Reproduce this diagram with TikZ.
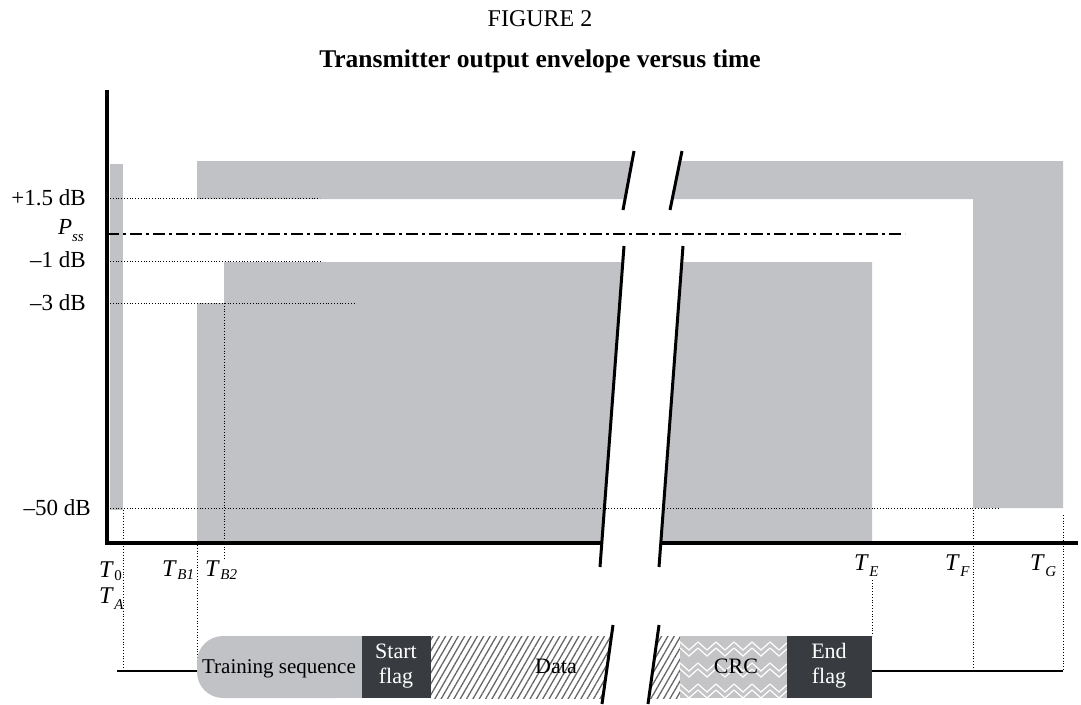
\documentclass[tikz,border=0pt]{standalone}
\usepackage{fontspec}
\setmainfont{Liberation Serif}
\usetikzlibrary{patterns.meta}
\definecolor{envgray}{RGB}{193,194,198}
\definecolor{flagdark}{RGB}{56,60,64}
\definecolor{crcgray}{RGB}{196,196,198}
\newcommand{\tname}[2][6pt]{\textit{T}\kern0.5pt\raisebox{-#1}{\fontsize{15}{15}\selectfont #2}}

\begin{document}
\begin{tikzpicture}[x=1pt,y=-1pt,
    lbl/.style={font=\fontsize{23}{26}\selectfont, inner sep=0pt},
    barlbl/.style={font=\fontsize{22}{25}\selectfont, inner sep=0pt},
    tlbl/.style={font=\fontsize{24}{26}\selectfont, inner sep=0pt, anchor=base west},
    guide/.style={dash pattern=on 1pt off 1.8pt, line width=1pt},
    brk/.style={line width=3pt},
    axis/.style={line width=3.5pt},
    flagbox/.style={fill=flagdark}]
    \useasboundingbox (0,0) rectangle (1081,704);

    % envelope mask
    \fill[envgray] (110,164) rectangle (123,510);
    \fill[envgray] (197,161) -- (1063,161) -- (1063,508) -- (973,508) -- (973,199) -- (197,199) -- cycle;
    \fill[envgray] (197,303) -- (224,303) -- (224,262) -- (872,262) -- (872,543) -- (197,543) -- cycle;
    \fill[white] (634,151) -- (682,151) -- (670,210) -- (623,210) -- cycle;
    \fill[white] (624,246) -- (683,246) -- (659,567) -- (600,567) -- cycle;

    % axes
    \coordinate (o) at (107,543);
    \coordinate (ytop) at (107,90);
    \coordinate (xa) at (602,543);
    \coordinate (xb) at (662,543);
    \coordinate (xend) at (1078,543);
    \draw[axis] (ytop) -- (o) -- (xa);
    \draw[axis] (xb) -- (xend);

    % levels
    \draw[guide] (110,198) -- (320,198);
    \draw[guide] (110,261) -- (321,261);
    \draw[guide] (110,303) -- (355,303);
    \draw[guide] (110,508) -- (999,508);
    \draw[line width=2pt, dash pattern=on 12pt off 4pt on 3pt off 4pt] (107,234) -- (905,234);

    % time marks
    \draw[guide] (123,510) -- (123,671);
    \draw[guide] (197,545) -- (197,662);
    \draw[guide] (224,303) -- (224,560);
    \draw[guide] (872,580) -- (872,636);
    \draw[guide] (973,510) -- (973,671);
    \draw[guide] (1063,515) -- (1063,671);

    \draw[brk] (634,151) -- (623,210);
    \draw[brk] (682,151) -- (670,210);
    \draw[brk] (624,246) -- (600,567);
    \draw[brk] (683,246) -- (659,567);

    % level labels
    \node[lbl, anchor=base east] (lup) at (86,205) {+1.5 dB};
    \node[lbl, anchor=base east] (lpss) at (84,234) {\textit{P}\raisebox{-7pt}{\fontsize{15}{15}\selectfont\textit{ss}}};
    \node[lbl, anchor=base east] (lone) at (86,267) {\textendash1 dB};
    \node[lbl, anchor=base east] (lthree) at (86,310) {\textendash3 dB};
    \node[lbl, anchor=base east] (lfifty) at (91,515) {\textendash50 dB};

    \node[tlbl] (t0) at (99,577) {\tname[3pt]{0}};
    \node[tlbl] (ta) at (99,603) {\tname{\textit{A}}};
    \node[tlbl] (tb1) at (162,576) {\tname[3pt]{\textit{B1}}};
    \node[tlbl] (tb2) at (205,576) {\tname[3pt]{\textit{B2}}};
    \node[tlbl] (te) at (854,570) {\tname{\textit{E}}};
    \node[tlbl] (tf) at (945,570) {\tname{\textit{F}}};
    \node[tlbl] (tg) at (1030,570) {\tname{\textit{G}}};

    % burst
    \draw[line width=2pt] (117,671) -- (197,671);
    \draw[line width=2pt] (872,671) -- (1063,671);
    \fill[envgray, rounded corners=26pt] (197,636) rectangle (362,698);
    \fill[envgray] (270,636) rectangle (362,698);
    \fill[flagbox] (362,636) rectangle (431,698);
    \fill[pattern={Lines[angle=60,distance=5.5pt,line width=1.3pt]}, pattern color=gray!80!black] (431,636) rectangle (680,698);
    \fill[crcgray] (680,636) rectangle (787,698);
    \foreach \r in {0,1,2} {
        \foreach \c in {0,...,5} {
            \draw[white, line width=1.2pt] (680+\c*18,642+\r*21) -- (689+\c*18,650+\r*21) -- (698+\c*18,642+\r*21);
            \draw[white, line width=1.2pt] (680+\c*18,648+\r*21) -- (689+\c*18,656+\r*21) -- (698+\c*18,648+\r*21);
        }
    }
    \fill[flagbox] (787,636) rectangle (872,698);
    \fill[white] (613,625) -- (659,625) -- (648,704) -- (602,704) -- cycle;
    \draw[brk] (613,625) -- (602,704);
    \draw[brk] (659,625) -- (648,704);

    \node[barlbl, anchor=base, font=\fontsize{21}{24}\selectfont] (train) at (279,673) {Training sequence};
    \node[barlbl, text=white, align=center] (sflag) at (396,666) {Start\\flag};
    \node[barlbl, anchor=base] (data) at (556,673) {Data};
    \node[barlbl, anchor=base] (crc) at (736,673) {CRC};
    \node[barlbl, text=white, align=center] (eflag) at (829,666) {End\\flag};

    % caption
    \node[lbl, anchor=base, font=\fontsize{24}{26}\selectfont] (fig) at (540,26) {FIGURE 2};
    \node[lbl, anchor=base, font=\bfseries\fontsize{25.5}{28}\selectfont] (title) at (540,67) {Transmitter output envelope versus time};
\end{tikzpicture}
\end{document}
